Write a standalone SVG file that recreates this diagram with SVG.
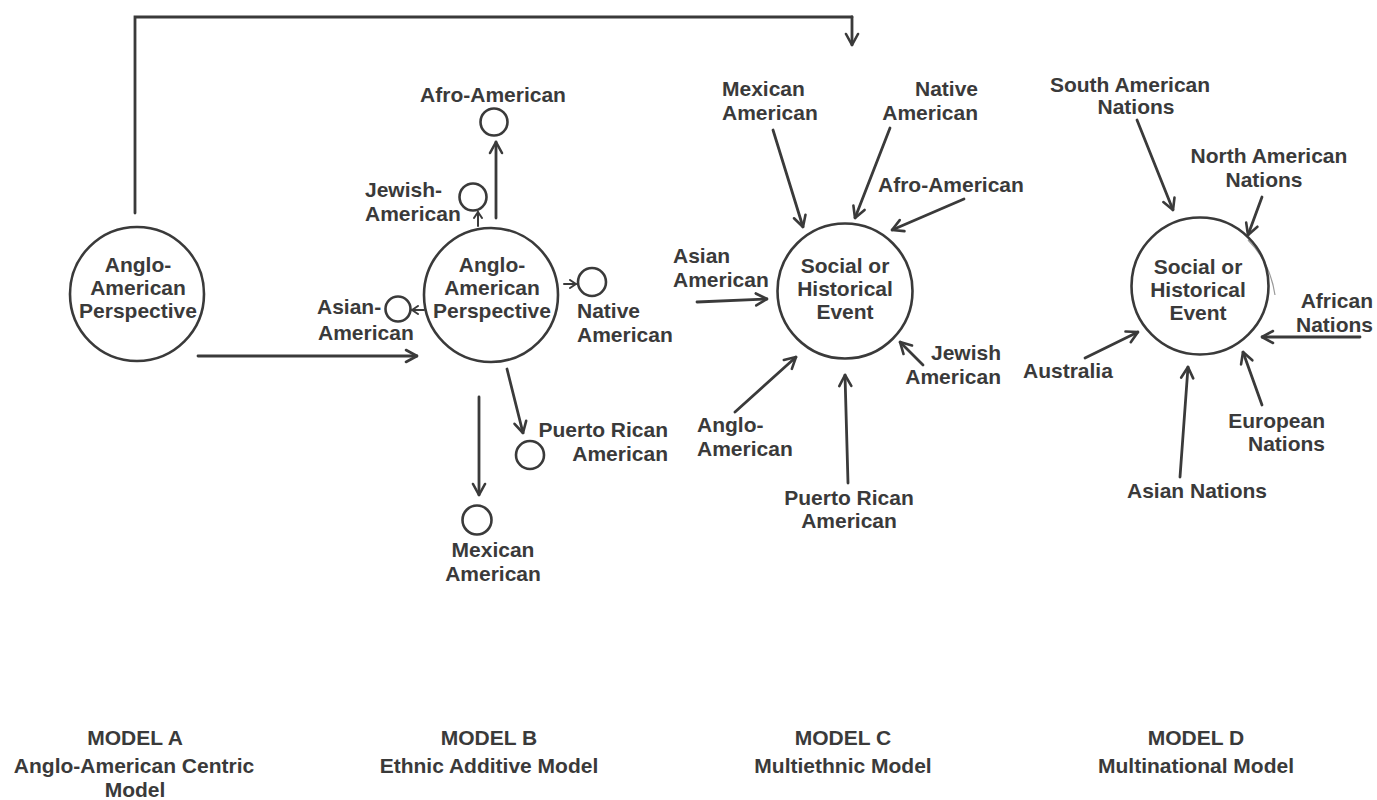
<svg xmlns="http://www.w3.org/2000/svg" width="1377" height="800" viewBox="0 0 1377 800">
<style>
.t{font-family:"Liberation Sans",Arial,Helvetica,sans-serif;font-weight:bold;font-size:21px;fill:#3a3a3a}
.m{text-anchor:middle}
.e{text-anchor:end}
.c{fill:none;stroke:#3a3a3a;stroke-width:2.6}
.sc{fill:none;stroke:#3a3a3a;stroke-width:2.6}
.a{fill:none;stroke:#3a3a3a;stroke-width:2.8;stroke-linecap:round;marker-end:url(#ah)}
.as{fill:none;stroke:#3a3a3a;stroke-width:2;stroke-linecap:round;marker-end:url(#ahs)}
.l{fill:none;stroke:#3a3a3a;stroke-width:2.8;stroke-linecap:round}
</style>
<defs>
<marker id="ah" viewBox="0 0 14 16" refX="13" refY="8" markerWidth="14" markerHeight="16" markerUnits="userSpaceOnUse" orient="auto">
<path d="M2,2 L13,8 L2,14" fill="none" stroke="#3a3a3a" stroke-width="2.6" stroke-linecap="round" stroke-linejoin="round"/>
</marker>
<marker id="ahs" viewBox="0 0 8 10" refX="7" refY="5" markerWidth="8" markerHeight="10" markerUnits="userSpaceOnUse" orient="auto">
<path d="M1,1 L7,5 L1,9" fill="none" stroke="#3a3a3a" stroke-width="2" stroke-linecap="round" stroke-linejoin="round"/>
</marker>
</defs>
<rect width="1377" height="800" fill="#ffffff"/>

<g id="connectors">
<path class="l" d="M135,213 L135,17 L852,17"/>
<path class="a" d="M852,17 L852,45"/>
<path class="a" d="M198,356 L417,356"/>
<!-- Model B -->
<path class="a" d="M496,218 L496,142"/>
<path class="as" d="M478,226 L478,212"/>
<path class="as" d="M424,310 L412,310"/>
<path class="as" d="M564,284 L576,284"/>
<path class="a" d="M507,369 L523,433"/>
<path class="a" d="M479,397 L479,495"/>
<!-- Model C -->
<path class="a" d="M773,130 L803,227"/>
<path class="a" d="M890,128 L855,218"/>
<path class="a" d="M964,199 L892,230"/>
<path class="a" d="M697,302 L767,299"/>
<path class="a" d="M923,365 L900,342"/>
<path class="a" d="M735,412 L796,357"/>
<path class="a" d="M848,483 L845,375"/>
<!-- Model D -->
<path class="a" d="M1137,120 L1173,210"/>
<path class="a" d="M1262,197 L1248,235"/>
<path class="a" d="M1360,337 L1262,337"/>
<path class="a" d="M1085,358 L1138,332"/>
<path class="a" d="M1180,477 L1188,367"/>
<path class="a" d="M1262,405 L1243,352"/>
<path d="M1248,240 Q1270,262 1275,295" fill="none" stroke="#9a9a9a" stroke-width="1.2"/>
</g>

<g id="modelA-anglo">
<circle class="c" cx="137" cy="294" r="67"/>
<text class="t m" x="138" y="272">Anglo-</text>
<text class="t m" x="138" y="295">American</text>
<text class="t m" x="138" y="318">Perspective</text>
</g>

<g id="modelB-anglo">
<circle class="c" cx="491" cy="295" r="67"/>
<text class="t m" x="492" y="272">Anglo-</text>
<text class="t m" x="492" y="295">American</text>
<text class="t m" x="492" y="318">Perspective</text>
</g>
<g id="modelB-afro">
<circle class="sc" cx="494" cy="122" r="13.5"/>
<text class="t m" x="493" y="102">Afro-American</text>
</g>
<g id="modelB-jewish">
<circle class="sc" cx="473" cy="197" r="13.5"/>
<text class="t" x="365" y="197">Jewish-</text>
<text class="t" x="365" y="221">American</text>
</g>
<g id="modelB-asian">
<circle class="sc" cx="398" cy="309" r="12.5"/>
<text class="t" x="317" y="314">Asian-</text>
<text class="t" x="318" y="340">American</text>
</g>
<g id="modelB-native">
<circle class="sc" cx="592" cy="282" r="14"/>
<text class="t" x="577" y="318">Native</text>
<text class="t" x="577" y="342">American</text>
</g>
<g id="modelB-puerto">
<circle class="sc" cx="530" cy="455" r="14"/>
<text class="t e" x="668" y="437">Puerto Rican</text>
<text class="t e" x="668" y="461">American</text>
</g>
<g id="modelB-mexican">
<circle class="sc" cx="477" cy="520" r="14.5"/>
<text class="t m" x="493" y="557">Mexican</text>
<text class="t m" x="493" y="581">American</text>
</g>

<g id="modelC-event">
<circle class="c" cx="845" cy="291" r="67.5"/>
<text class="t m" x="845" y="273">Social or</text>
<text class="t m" x="845" y="296">Historical</text>
<text class="t m" x="845" y="319">Event</text>
</g>
<g id="modelC-mexican">
<text class="t" x="722" y="96">Mexican</text>
<text class="t" x="722" y="120">American</text>
</g>
<g id="modelC-native">
<text class="t e" x="978" y="96">Native</text>
<text class="t e" x="978" y="120">American</text>
</g>
<g id="modelC-afro">
<text class="t" x="878" y="192">Afro-American</text>
</g>
<g id="modelC-asian">
<text class="t" x="673" y="263">Asian</text>
<text class="t" x="673" y="287">American</text>
</g>
<g id="modelC-jewish">
<text class="t e" x="1001" y="360">Jewish</text>
<text class="t e" x="1001" y="384">American</text>
</g>
<g id="modelC-anglo">
<text class="t" x="697" y="432">Anglo-</text>
<text class="t" x="697" y="456">American</text>
</g>
<g id="modelC-puerto">
<text class="t m" x="849" y="505">Puerto Rican</text>
<text class="t m" x="849" y="528">American</text>
</g>

<g id="modelD-event">
<circle class="c" cx="1200" cy="286" r="68.5"/>
<text class="t m" x="1198" y="274">Social or</text>
<text class="t m" x="1198" y="297">Historical</text>
<text class="t m" x="1198" y="320">Event</text>
</g>
<g id="modelD-south">
<text class="t m" x="1130" y="92">South American</text>
<text class="t m" x="1136" y="114">Nations</text>
</g>
<g id="modelD-north">
<text class="t m" x="1269" y="163">North American</text>
<text class="t m" x="1264" y="187">Nations</text>
</g>
<g id="modelD-african">
<text class="t e" x="1373" y="308">African</text>
<text class="t e" x="1373" y="332">Nations</text>
</g>
<g id="modelD-australia">
<text class="t" x="1023" y="378">Australia</text>
</g>
<g id="modelD-european">
<text class="t e" x="1325" y="428">European</text>
<text class="t e" x="1325" y="451">Nations</text>
</g>
<g id="modelD-asian">
<text class="t m" x="1197" y="498">Asian Nations</text>
</g>

<g id="captions">
<text class="t m" x="135" y="745">MODEL A</text>
<text class="t m" x="134" y="773">Anglo-American Centric</text>
<text class="t m" x="135" y="797">Model</text>
<text class="t m" x="489" y="745">MODEL B</text>
<text class="t m" x="489" y="773">Ethnic Additive Model</text>
<text class="t m" x="843" y="745">MODEL C</text>
<text class="t m" x="843" y="773">Multiethnic Model</text>
<text class="t m" x="1196" y="745">MODEL D</text>
<text class="t m" x="1196" y="773">Multinational Model</text>
</g>
</svg>
